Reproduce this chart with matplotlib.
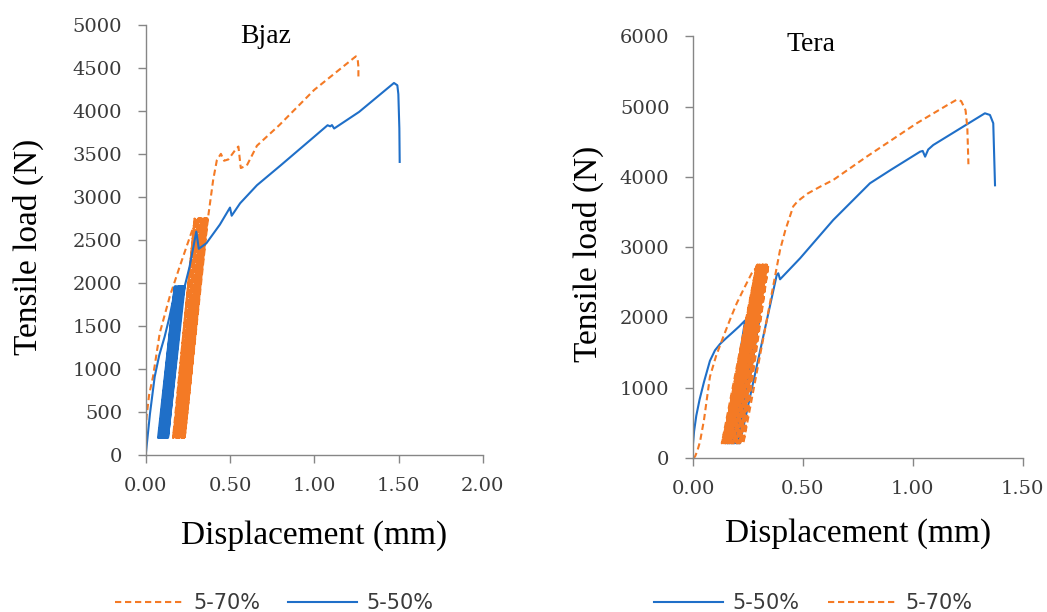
import matplotlib
matplotlib.use("Agg")
import matplotlib.pyplot as plt

BLUE = "#1f6fc8"
ORANGE = "#f47a25"
TEXT = "#3a3a3a"
SPINE = "#868686"

# ---------------- Bjaz ----------------
# 5-50 %: monotonic loading up to the first hold
bjaz50_pre_x = [0.0, 0.004, 0.025, 0.053, 0.08, 0.112, 0.14, 0.162, 0.18, 0.20, 0.231]
bjaz50_pre_y = [0, 80, 480, 910, 1160, 1376, 1600, 1803, 1938, 1962, 1962]
# cyclic loading: displacement at the lower / upper load limits of each cycle
bjaz50_cyc_lo = [0.073, 0.078, 0.083, 0.089, 0.094, 0.099, 0.105, 0.110, 0.115, 0.121, 0.126]
bjaz50_cyc_hi = [0.172, 0.177, 0.182, 0.188, 0.193, 0.198, 0.204, 0.209, 0.214, 0.220, 0.225]
bjaz50_cyc_min, bjaz50_cyc_max = 200, 1962
# reloading to failure
bjaz50_post_x = [0.132, 0.231, 0.26, 0.30, 0.315, 0.36, 0.44, 0.50, 0.51, 0.56, 0.66, 0.80,
                 1.00, 1.079, 1.095, 1.105, 1.118, 1.266, 1.473, 1.493, 1.499, 1.505, 1.507]
bjaz50_post_y = [200, 1962, 2190, 2600, 2400, 2465, 2682, 2880, 2785, 2930, 3140, 3370,
                 3705, 3838, 3825, 3840, 3800, 3993, 4330, 4303, 4200, 3800, 3411]

# 5-70 %
bjaz70_pre_x = [0.0, 0.005, 0.02, 0.043, 0.083, 0.142, 0.201, 0.25, 0.29, 0.32, 0.345]
bjaz70_pre_y = [291, 450, 700, 910, 1419, 1841, 2190, 2470, 2695, 2741, 2752]
bjaz70_cyc_lo = [0.162, 0.165, 0.167, 0.170, 0.172, 0.175, 0.178, 0.180, 0.183, 0.185,
                 0.188, 0.191, 0.193, 0.196, 0.199, 0.201, 0.204, 0.206, 0.209, 0.212,
                 0.214, 0.217, 0.219, 0.222, 0.225, 0.228]
bjaz70_cyc_hi = [0.290, 0.293, 0.296, 0.299, 0.302, 0.305, 0.308, 0.311, 0.314, 0.317,
                 0.320, 0.323, 0.326, 0.329, 0.332, 0.335, 0.338, 0.341, 0.345, 0.348,
                 0.351, 0.354, 0.357, 0.360, 0.363, 0.366]
bjaz70_cyc_min, bjaz70_cyc_max = 200, 2752
bjaz70_post_x = [0.231, 0.369, 0.40, 0.422, 0.446, 0.465, 0.49, 0.535, 0.55, 0.564, 0.60,
                 0.66, 0.793, 1.00, 1.247, 1.258, 1.262, 1.262]
bjaz70_post_y = [200, 2752, 3200, 3432, 3505, 3425, 3440, 3560, 3590, 3340, 3370,
                 3600, 3840, 4250, 4640, 4600, 4516, 4381]

# ---------------- Tera ----------------
tera50_pre_x = [0.0, 0.005, 0.015, 0.03, 0.05, 0.077, 0.10, 0.123, 0.15, 0.182, 0.21, 0.237]
tera50_pre_y = [200, 380, 600, 830, 1080, 1380, 1530, 1620, 1700, 1790, 1870, 1955]
tera50_cyc_lo = [0.150, 0.158, 0.166, 0.174, 0.182, 0.190, 0.198, 0.205]
tera50_cyc_hi = [0.245, 0.253, 0.261, 0.269, 0.277, 0.285, 0.293, 0.300]
tera50_cyc_min, tera50_cyc_max = 205, 1955
tera50_post_x = [0.213, 0.381, 0.388, 0.396, 0.487, 0.638, 0.805, 0.90, 1.033, 1.045,
                 1.056, 1.07, 1.093, 1.328, 1.351, 1.366, 1.374]
tera50_post_y = [205, 2603, 2627, 2541, 2840, 3386, 3909, 4100, 4359, 4370,
                 4288, 4390, 4454, 4906, 4882, 4764, 3880]

tera70_pre_x = [0.0, 0.009, 0.02, 0.032, 0.05, 0.077, 0.105, 0.138, 0.17, 0.199, 0.235,
                0.267, 0.297, 0.32]
tera70_pre_y = [0, 15, 100, 230, 540, 1154, 1450, 1724, 1980, 2200, 2430, 2627, 2745, 2750]
tera70_cyc_lo = [0.131, 0.136, 0.141, 0.147, 0.152, 0.157, 0.163, 0.168, 0.173, 0.179,
                 0.184, 0.189, 0.195, 0.200, 0.205, 0.211, 0.216, 0.221]
tera70_cyc_hi = [0.290, 0.293, 0.296, 0.299, 0.302, 0.305, 0.308, 0.311, 0.314, 0.318,
                 0.321, 0.324, 0.327, 0.330, 0.333, 0.336, 0.339, 0.343]
tera70_cyc_min, tera70_cyc_max = 205, 2750
tera70_post_x = [0.229, 0.396, 0.42, 0.456, 0.475, 0.52, 0.578, 0.638, 0.79, 1.018, 1.15,
                 1.20, 1.22, 1.24, 1.248, 1.253]
tera70_post_y = [205, 2960, 3240, 3580, 3650, 3760, 3860, 3956, 4288, 4764, 5010,
                 5100, 5080, 4950, 4700, 4180]

bjaz_yticks = [0, 500, 1000, 1500, 2000, 2500, 3000, 3500, 4000, 4500, 5000]
bjaz_xticks = [0.0, 0.5, 1.0, 1.5, 2.0]
tera_yticks = [0, 1000, 2000, 3000, 4000, 5000, 6000]
tera_xticks = [0.0, 0.5, 1.0, 1.5]


def test_curve(pre_x, pre_y, lo, hi, y_min, y_max, post_x, post_y):
    """Join the initial loading, the load/unload cycles and the final reloading."""
    xs, ys = list(pre_x), list(pre_y)
    for a, b in zip(lo, hi):
        xs += [a, b]
        ys += [y_min, y_max]
    xs += list(post_x)
    ys += list(post_y)
    return xs, ys


DASH = (0, (3, 1.8))
LW = 1.5

fig = plt.figure(figsize=(10.47, 6.12), dpi=100)
ax1 = fig.add_axes([0.1392, 0.2565, 0.3219, 0.7020])
ax2 = fig.add_axes([0.6619, 0.2521, 0.3149, 0.6883])


def style_axes(ax, xticks, yticks, title, title_xy, ylab_x, xlab_y):
    for s in ("top", "right"):
        ax.spines[s].set_visible(False)
    for s in ("left", "bottom"):
        ax.spines[s].set_color(SPINE)
        ax.spines[s].set_linewidth(1.0)
    ax.set_xlim(xticks[0], xticks[-1])
    ax.set_ylim(yticks[0], yticks[-1])
    ax.set_xticks(xticks)
    ax.set_yticks(yticks)
    ax.set_xticklabels([f"{v:.2f}" for v in xticks])
    ax.set_yticklabels([str(v) for v in yticks])
    ax.tick_params(axis="both", direction="out", length=6, width=1.0, color=SPINE,
                   labelcolor=TEXT, labelsize=14)
    ax.tick_params(axis="y", pad=11)
    ax.tick_params(axis="x", pad=10)
    for lab in ax.get_xticklabels() + ax.get_yticklabels():
        lab.set_fontfamily("DejaVu Serif")
    ax.set_xlabel("Displacement (mm)", fontsize=24, family="Liberation Serif",
                  color="black", va="center")
    ax.xaxis.set_label_coords(0.5, xlab_y)
    ax.set_ylabel("Tensile load (N)", fontsize=24, family="Liberation Serif",
                  color="black", va="center")
    ax.yaxis.set_label_coords(ylab_x, 0.484)
    ax.text(title_xy[0], title_xy[1], title, transform=ax.transAxes, ha="center",
            va="center", fontsize=20, family="Liberation Serif", color="black")


# Bjaz: 5-70 % drawn first, 5-50 % on top
x70, y70 = test_curve(bjaz70_pre_x, bjaz70_pre_y, bjaz70_cyc_lo, bjaz70_cyc_hi,
                      bjaz70_cyc_min, bjaz70_cyc_max, bjaz70_post_x, bjaz70_post_y)
x50, y50 = test_curve(bjaz50_pre_x, bjaz50_pre_y, bjaz50_cyc_lo, bjaz50_cyc_hi,
                      bjaz50_cyc_min, bjaz50_cyc_max, bjaz50_post_x, bjaz50_post_y)
l70, = ax1.plot(x70, y70, color=ORANGE, lw=LW, linestyle=DASH, label="5-70%",
                dash_joinstyle="round")
l50, = ax1.plot(x50, y50, color=BLUE, lw=LW, label="5-50%", solid_joinstyle="round")
style_axes(ax1, bjaz_xticks, bjaz_yticks, "Bjaz", (0.357, 0.975), -0.349, -0.1886)

# Tera: 5-50 % drawn first, 5-70 % on top
x50, y50 = test_curve(tera50_pre_x, tera50_pre_y, tera50_cyc_lo, tera50_cyc_hi,
                      tera50_cyc_min, tera50_cyc_max, tera50_post_x, tera50_post_y)
x70, y70 = test_curve(tera70_pre_x, tera70_pre_y, tera70_cyc_lo, tera70_cyc_hi,
                      tera70_cyc_min, tera70_cyc_max, tera70_post_x, tera70_post_y)
r50, = ax2.plot(x50, y50, color=BLUE, lw=LW, label="5-50%", solid_joinstyle="round")
r70, = ax2.plot(x70, y70, color=ORANGE, lw=LW, linestyle=DASH, label="5-70%",
                dash_joinstyle="round")
style_axes(ax2, tera_xticks, tera_yticks, "Tera", (0.358, 0.982), -0.318, -0.179)

leg_kw = dict(loc="center", ncol=2, frameon=False, handlelength=3.3, handletextpad=0.45,
              columnspacing=1.35, borderpad=0, labelcolor=TEXT,
              prop={"family": "DejaVu Sans", "size": 15})
fig.legend(handles=[l70, l50], bbox_to_anchor=(0.262, 0.0147), **leg_kw)
fig.legend(handles=[r50, r70], bbox_to_anchor=(0.777, 0.0147), **leg_kw)

fig.savefig("out.png", dpi=100)
